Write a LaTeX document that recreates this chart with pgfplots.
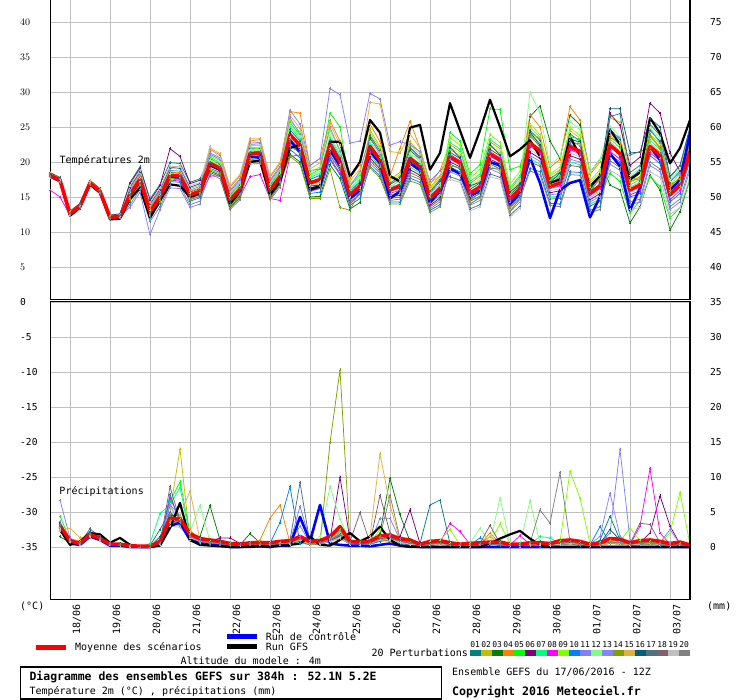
\documentclass[border=0pt]{standalone}
\usepackage{fontspec}
\setmainfont{DejaVu Sans Mono}
\usepackage{pgfplots}
\pgfplotsset{compat=1.18}
\definecolor{c01}{HTML}{008080}
\definecolor{c02}{HTML}{C0C000}
\definecolor{c03}{HTML}{008000}
\definecolor{c04}{HTML}{FF8000}
\definecolor{c05}{HTML}{00FF00}
\definecolor{c06}{HTML}{800080}
\definecolor{c07}{HTML}{00FF80}
\definecolor{c08}{HTML}{FF00FF}
\definecolor{c09}{HTML}{80FF00}
\definecolor{c10}{HTML}{0080FF}
\definecolor{c11}{HTML}{8080FF}
\definecolor{c12}{HTML}{80FF80}
\definecolor{c13}{HTML}{8484FF}
\definecolor{c14}{HTML}{80A000}
\definecolor{c15}{HTML}{E0B040}
\definecolor{c16}{HTML}{006080}
\definecolor{c17}{HTML}{507080}
\definecolor{c18}{HTML}{806070}
\definecolor{c19}{HTML}{C0C0C0}
\definecolor{c20}{HTML}{808080}
\definecolor{gridc}{HTML}{C0C0C0}
\pgfplotsset{
  mem/.style={line width=0.75pt, mark=+, mark size=1.4pt, mark options={solid, line width=0.6pt}},
  base/.style={scale only axis, width=640pt, xmin=0, xmax=64, major tick length=0pt,
    tick label style={font=\fontsize{9.6}{10}\selectfont}},
}
\begin{document}
\begin{tikzpicture}
\useasboundingbox (0pt,0pt) rectangle (740pt,700pt);
% ================= TOP PANEL: temperatures =================
\begin{axis}[base, at={(50pt,400pt)}, anchor=south west, height=300pt,
  ymin=0.2857, ymax=43.143,
  axis x line*=bottom, axis y line*=left, axis line style={-, line width=1pt},
  xtick={2,6,...,62}, xticklabels={}, ytick={5,10,...,40},
  grid=major, grid style={gridc, line width=0.9pt},
  yticklabel style={anchor=west, inner sep=0pt, xshift=-30pt}]
\addplot[mem,c01] coordinates {(0,18.5)(1,17.8)(2,13.0)(3,14.1)(4,17.4)(5,16.2)(6,12.4)(7,12.6)(8,17.1)(9,19.3)(10,14.7)(11,16.8)(12,19.9)(13,19.8)(14,17.1)(15,17.6)(16,20.5)(17,19.7)(18,15.2)(19,16.7)(20,21.9)(21,21.9)(22,16.6)(23,18.5)(24,24.6)(25,23.0)(26,17.5)(27,18.1)(28,23.1)(29,20.6)(30,15.8)(31,17.2)(32,22.6)(33,20.0)(34,16.3)(35,16.4)(36,20.9)(37,19.1)(38,15.1)(39,16.5)(40,19.7)(41,19.0)(42,14.7)(43,15.5)(44,20.1)(45,19.3)(46,13.8)(47,15.2)(48,24.5)(49,23.1)(50,17.7)(51,18.5)(52,24.0)(53,23.0)(54,16.7)(55,18.1)(56,24.7)(57,23.2)(58,17.8)(59,18.7)(60,24.5)(61,23.0)(62,17.1)(63,18.7)(64,23.8)};
\addplot[mem,c02] coordinates {(0,18.0)(1,17.3)(2,12.8)(3,13.8)(4,16.9)(5,15.9)(6,12.3)(7,12.3)(8,14.8)(9,17.0)(10,12.4)(11,14.5)(12,17.6)(13,17.5)(14,14.8)(15,15.3)(16,20.9)(17,20.2)(18,15.6)(19,17.1)(20,22.3)(21,22.4)(22,17.0)(23,19.0)(24,23.2)(25,21.8)(26,16.5)(27,16.9)(28,21.7)(29,19.4)(30,14.8)(31,16.0)(32,24.6)(33,22.2)(34,17.5)(35,18.5)(36,22.9)(37,21.3)(38,16.3)(39,18.1)(40,19.0)(41,18.3)(42,14.1)(43,14.8)(44,19.4)(45,18.7)(46,13.2)(47,14.6)(48,24.0)(49,22.7)(50,17.4)(51,18.1)(52,23.5)(53,22.6)(54,16.4)(55,17.7)(56,26.3)(57,25.7)(58,17.5)(59,17.8)(60,21.5)(61,20.5)(62,15.5)(63,16.5)(64,20.5)};
\addplot[mem,c03] coordinates {(0,17.9)(1,17.2)(2,12.4)(3,13.5)(4,16.8)(5,15.6)(6,11.9)(7,12.0)(8,15.7)(9,17.9)(10,13.3)(11,15.4)(12,18.5)(13,18.4)(14,15.7)(15,16.2)(16,18.7)(17,18.1)(18,13.6)(19,15.1)(20,20.1)(21,20.3)(22,15.0)(23,16.9)(24,21.1)(25,20.0)(26,15.0)(27,15.1)(28,19.6)(29,17.6)(30,13.3)(31,14.2)(32,23.4)(33,21.3)(34,16.8)(35,17.6)(36,21.7)(37,20.4)(38,15.6)(39,17.2)(40,21.4)(41,20.5)(42,16.1)(43,17.0)(44,21.8)(45,20.9)(46,15.2)(47,16.8)(48,26.5)(49,28.0)(50,23.0)(51,20.5)(52,26.7)(53,25.3)(54,18.5)(55,20.4)(56,16.7)(57,16.0)(58,11.3)(59,13.6)(60,18.1)(61,16.0)(62,10.3)(63,12.9)(64,17.6)};
\addplot[mem,c04] coordinates {(0,18.3)(1,17.6)(2,12.8)(3,13.9)(4,17.2)(5,16.0)(6,12.3)(7,12.4)(8,15.8)(9,18.0)(10,13.4)(11,15.5)(12,18.6)(13,18.5)(14,15.8)(15,16.3)(16,21.8)(17,21.0)(18,16.4)(19,18.0)(20,23.0)(21,23.2)(22,17.8)(23,19.8)(24,27.2)(25,27.0)(26,19.5)(27,20.5)(28,25.9)(29,23.0)(30,17.8)(31,19.6)(32,25.4)(33,22.9)(34,18.0)(35,22.0)(36,25.8)(37,22.0)(38,16.8)(39,18.8)(40,22.5)(41,21.5)(42,16.9)(43,18.0)(44,22.9)(45,21.9)(46,16.0)(47,17.8)(48,26.8)(49,25.0)(50,19.2)(51,20.4)(52,27.9)(53,26.0)(54,18.2)(55,20.0)(56,23.8)(57,22.4)(58,17.1)(59,17.9)(60,23.6)(61,22.2)(62,16.4)(63,17.9)(64,22.9)};
\addplot[mem,c05] coordinates {(0,18.2)(1,17.5)(2,12.5)(3,13.6)(4,17.1)(5,15.9)(6,12.0)(7,12.3)(8,14.9)(9,17.1)(10,12.5)(11,14.6)(12,17.7)(13,17.6)(14,14.9)(15,15.4)(16,20.2)(17,19.5)(18,15.0)(19,16.5)(20,21.6)(21,21.7)(22,16.4)(23,18.3)(24,25.6)(25,23.9)(26,18.2)(27,19.0)(28,27.0)(29,25.0)(30,16.6)(31,18.1)(32,21.0)(33,19.3)(34,15.3)(35,15.6)(36,19.3)(37,18.4)(38,14.1)(39,15.2)(40,24.2)(41,23.0)(42,18.3)(43,19.6)(44,27.6)(45,27.5)(46,18.9)(47,19.4)(48,24.2)(49,23.4)(50,17.4)(51,18.8)(52,23.6)(53,23.3)(54,16.9)(55,15.0)(56,18.4)(57,17.2)(58,12.7)(59,14.5)(60,17.9)(61,16.5)(62,12.0)(63,13.5)(64,17.4)};
\addplot[mem,c06] coordinates {(0,18.4)(1,17.7)(2,12.9)(3,14.0)(4,17.3)(5,16.1)(6,12.4)(7,12.5)(8,16.9)(9,19.1)(10,14.5)(11,16.6)(12,21.9)(13,20.8)(14,16.9)(15,17.4)(16,19.4)(17,18.7)(18,14.2)(19,15.7)(20,20.8)(21,20.9)(22,15.6)(23,17.5)(24,24.2)(25,22.0)(26,17.3)(27,17.2)(28,22.8)(29,20.4)(30,15.0)(31,16.9)(32,20.6)(33,19.0)(34,15.0)(35,15.3)(36,18.9)(37,18.1)(38,13.8)(39,14.9)(40,20.0)(41,19.3)(42,14.9)(43,15.8)(44,20.4)(45,19.7)(46,14.0)(47,15.6)(48,21.4)(49,20.5)(50,15.6)(51,15.9)(52,20.9)(53,20.4)(54,14.6)(55,15.5)(56,26.9)(57,25.2)(58,19.5)(59,20.7)(60,28.4)(61,27.0)(62,21.3)(63,18.6)(64,23.0)};
\addplot[mem,c07] coordinates {(0,17.9)(1,17.2)(2,12.5)(3,13.5)(4,16.8)(5,15.6)(6,12.0)(7,12.0)(8,15.5)(9,17.3)(10,13.1)(11,14.8)(12,18.3)(13,17.8)(14,15.5)(15,15.6)(16,20.7)(17,19.9)(18,15.4)(19,16.9)(20,22.1)(21,22.1)(22,16.8)(23,18.7)(24,25.0)(25,23.3)(26,17.8)(27,18.4)(28,23.5)(29,20.9)(30,16.1)(31,17.5)(32,22.6)(33,20.6)(34,16.3)(35,16.9)(36,20.9)(37,19.7)(38,15.1)(39,16.5)(40,22.8)(41,21.8)(42,17.2)(43,18.3)(44,23.2)(45,22.2)(46,16.3)(47,18.1)(48,20.5)(49,19.7)(50,15.0)(51,15.1)(52,20.0)(53,19.6)(54,14.0)(55,14.7)(56,23.3)(57,22.0)(58,16.7)(59,17.5)(60,23.1)(61,21.8)(62,16.0)(63,17.5)(64,22.4)};
\addplot[mem,c08] coordinates {(0,16.0)(1,15.0)(2,12.4)(3,13.4)(4,16.7)(5,15.6)(6,11.8)(7,12.0)(8,14.6)(9,16.8)(10,12.2)(11,14.3)(12,17.4)(13,17.3)(14,14.6)(15,15.1)(16,18.0)(17,18.0)(18,14.6)(19,15.0)(20,17.9)(21,18.2)(22,14.8)(23,14.5)(24,20.8)(25,21.0)(26,15.8)(27,16.2)(28,20.5)(29,18.4)(30,14.0)(31,15.4)(32,21.4)(33,19.7)(34,15.5)(35,16.0)(36,19.7)(37,18.8)(38,14.3)(39,15.6)(40,21.1)(41,20.2)(42,15.8)(43,16.7)(44,21.5)(45,20.6)(46,14.9)(47,16.5)(48,22.3)(49,21.2)(50,16.2)(51,16.6)(52,21.8)(53,21.1)(54,15.2)(55,16.2)(56,21.5)(57,20.4)(58,15.3)(59,15.9)(60,21.3)(61,20.2)(62,14.6)(63,15.9)(64,20.6)};
\addplot[mem,c09] coordinates {(0,18.3)(1,17.6)(2,12.7)(3,13.9)(4,17.2)(5,16.0)(6,12.2)(7,12.4)(8,15.1)(9,17.3)(10,12.7)(11,14.8)(12,17.9)(13,17.8)(14,15.1)(15,15.6)(16,20.3)(17,19.9)(18,15.0)(19,16.9)(20,21.6)(21,22.1)(22,16.3)(23,18.7)(24,26.0)(25,24.2)(26,18.5)(27,19.3)(28,24.5)(29,21.8)(30,16.8)(31,18.4)(32,24.2)(33,21.9)(34,17.3)(35,18.2)(36,22.5)(37,21.0)(38,16.1)(39,17.8)(40,23.5)(41,22.4)(42,17.7)(43,18.9)(44,23.9)(45,22.8)(46,16.8)(47,18.7)(48,25.4)(49,23.9)(50,18.3)(51,19.3)(52,24.9)(53,23.8)(54,17.3)(55,18.9)(56,24.2)(57,22.8)(58,17.4)(59,18.3)(60,24.0)(61,22.6)(62,16.7)(63,18.3)(64,23.3)};
\addplot[mem,c10] coordinates {(0,17.9)(1,17.2)(2,12.4)(3,13.5)(4,16.8)(5,15.6)(6,11.9)(7,12.0)(8,14.4)(9,16.6)(10,12.0)(11,14.1)(12,17.2)(13,17.1)(14,14.4)(15,14.9)(16,19.1)(17,18.5)(18,14.0)(19,15.5)(20,20.5)(21,20.7)(22,15.4)(23,17.3)(24,21.8)(25,20.6)(26,15.5)(27,15.7)(28,20.3)(29,18.2)(30,13.8)(31,14.8)(32,19.4)(33,18.0)(34,14.3)(35,14.3)(36,17.7)(37,17.1)(38,13.1)(39,13.9)(40,19.3)(41,18.6)(42,14.4)(43,15.1)(44,19.7)(45,19.0)(46,13.5)(47,14.9)(48,19.1)(49,18.6)(50,14.1)(51,14.0)(52,18.6)(53,18.5)(54,13.1)(55,13.6)(56,21.1)(57,20.0)(58,15.0)(59,15.5)(60,20.9)(61,19.8)(62,14.3)(63,15.5)(64,20.2)};
\addplot[mem,c11] coordinates {(0,18.2)(1,17.5)(2,12.7)(3,13.8)(4,17.1)(5,15.9)(6,12.2)(7,12.3)(8,13.5)(9,15.7)(10,9.6)(11,13.2)(12,16.3)(13,16.2)(14,13.5)(15,14.0)(16,21.1)(17,20.4)(18,15.8)(19,17.4)(20,22.5)(21,22.6)(22,17.2)(23,19.2)(24,27.4)(25,25.4)(26,19.5)(27,20.5)(28,30.5)(29,29.6)(30,22.7)(31,23.0)(32,29.8)(33,29.0)(34,22.4)(35,22.9)(36,22.5)(37,21.5)(38,17.3)(39,18.7)(40,20.4)(41,19.6)(42,15.2)(43,16.1)(44,20.8)(45,20.0)(46,14.3)(47,15.9)(48,23.6)(49,22.4)(50,17.1)(51,17.8)(52,23.1)(53,22.3)(54,16.1)(55,17.4)(56,24.3)(57,23.5)(58,17.5)(59,19.0)(60,24.8)(61,22.7)(62,17.3)(63,18.4)(64,24.0)};
\addplot[mem,c12] coordinates {(0,18.1)(1,17.3)(2,12.6)(3,13.8)(4,17.0)(5,15.7)(6,12.1)(7,12.3)(8,15.5)(9,17.7)(10,13.1)(11,15.2)(12,18.3)(13,18.2)(14,15.5)(15,16.0)(16,20.2)(17,19.5)(18,15.0)(19,16.5)(20,21.6)(21,21.7)(22,16.4)(23,18.3)(24,25.3)(25,23.6)(26,18.0)(27,18.7)(28,23.8)(29,21.2)(30,16.3)(31,17.8)(32,23.0)(33,21.0)(34,16.5)(35,17.3)(36,21.3)(37,20.1)(38,15.3)(39,16.9)(40,22.1)(41,21.2)(42,16.6)(43,17.7)(44,22.5)(45,21.6)(46,15.7)(47,17.5)(48,29.9)(49,27.0)(50,19.5)(51,20.8)(52,25.8)(53,24.6)(54,18.5)(55,20.4)(56,25.1)(57,23.6)(58,18.1)(59,19.1)(60,24.9)(61,23.4)(62,17.4)(63,19.1)(64,24.2)};
\addplot[mem,c13] coordinates {(0,18.0)(1,17.3)(2,12.5)(3,13.6)(4,16.9)(5,15.7)(6,12.0)(7,12.1)(8,16.0)(9,18.2)(10,13.6)(11,15.7)(12,18.8)(13,18.7)(14,16.0)(15,16.5)(16,21.3)(17,20.6)(18,16.0)(19,17.6)(20,22.7)(21,22.8)(22,17.4)(23,19.4)(24,26.3)(25,24.0)(26,18.8)(27,19.0)(28,25.0)(29,21.5)(30,16.5)(31,18.7)(32,23.8)(33,21.0)(34,17.0)(35,17.4)(36,22.0)(37,20.6)(38,15.3)(39,17.5)(40,18.6)(41,18.0)(42,13.8)(43,14.5)(44,19.0)(45,18.4)(46,12.9)(47,14.3)(48,20.9)(49,20.1)(50,15.3)(51,15.5)(52,20.4)(53,20.0)(54,14.3)(55,15.1)(56,19.7)(57,18.8)(58,13.9)(59,14.3)(60,19.5)(61,18.6)(62,13.2)(63,14.3)(64,18.8)};
\addplot[mem,c14] coordinates {(0,18.4)(1,17.5)(2,12.9)(3,13.8)(4,17.3)(5,15.9)(6,12.4)(7,12.3)(8,14.6)(9,16.8)(10,12.6)(11,14.3)(12,17.3)(13,17.7)(14,14.6)(15,15.5)(16,18.9)(17,18.3)(18,13.8)(19,15.3)(20,20.3)(21,20.5)(22,15.2)(23,17.1)(24,20.8)(25,19.7)(26,14.8)(27,14.8)(28,19.0)(29,13.5)(30,13.1)(31,16.0)(32,19.2)(33,17.7)(34,14.0)(35,14.0)(36,17.3)(37,16.8)(38,12.8)(39,13.6)(40,19.4)(41,19.2)(42,14.4)(43,15.7)(44,19.8)(45,19.6)(46,13.5)(47,15.4)(48,23.9)(49,22.1)(50,16.8)(51,18.0)(52,22.8)(53,22.6)(54,15.8)(55,17.6)(56,23.5)(57,22.7)(58,17.3)(59,17.6)(60,23.9)(61,21.9)(62,16.7)(63,17.6)(64,22.6)};
\addplot[mem,c15] coordinates {(0,18.3)(1,17.7)(2,12.9)(3,13.9)(4,17.3)(5,16.1)(6,12.2)(7,12.5)(8,16.2)(9,18.4)(10,13.8)(11,15.9)(12,19.0)(13,19.5)(14,16.2)(15,16.7)(16,22.0)(17,21.2)(18,16.6)(19,18.2)(20,23.4)(21,23.4)(22,18.0)(23,20.0)(24,26.7)(25,24.8)(26,19.0)(27,19.9)(28,25.5)(29,22.4)(30,17.3)(31,19.0)(32,28.5)(33,28.3)(34,21.5)(35,21.3)(36,24.0)(37,22.0)(38,17.0)(39,18.0)(40,21.8)(41,20.9)(42,16.3)(43,17.4)(44,22.2)(45,21.3)(46,15.4)(47,17.2)(48,25.0)(49,23.5)(50,18.0)(51,18.9)(52,24.5)(53,23.4)(54,17.0)(55,18.5)(56,22.9)(57,21.6)(58,16.4)(59,17.1)(60,22.7)(61,21.4)(62,15.7)(63,17.1)(64,22.0)};
\addplot[mem,c16] coordinates {(0,17.8)(1,17.1)(2,12.3)(3,13.4)(4,16.7)(5,15.5)(6,11.8)(7,11.9)(8,16.4)(9,18.6)(10,14.0)(11,16.1)(12,19.2)(13,19.1)(14,16.4)(15,16.9)(16,19.6)(17,19.3)(18,14.3)(19,16.3)(20,21.0)(21,21.5)(22,15.8)(23,18.0)(24,23.4)(25,21.5)(26,16.7)(27,16.6)(28,21.5)(29,19.7)(30,14.5)(31,16.3)(32,21.8)(33,20.0)(34,15.8)(35,16.3)(36,20.1)(37,19.1)(38,14.6)(39,15.9)(40,22.1)(41,20.6)(42,16.6)(43,17.1)(44,22.5)(45,21.0)(46,15.7)(47,16.9)(48,24.3)(49,22.4)(50,17.1)(51,18.4)(52,23.2)(53,22.9)(54,16.1)(55,18.0)(56,27.6)(57,27.6)(58,21.3)(59,21.4)(60,26.2)(61,25.0)(62,17.9)(63,19.5)(64,25.0)};
\addplot[mem,c17] coordinates {(0,18.1)(1,17.3)(2,12.6)(3,13.7)(4,16.9)(5,15.8)(6,12.0)(7,12.2)(8,15.0)(9,17.0)(10,12.3)(11,14.7)(12,17.9)(13,17.5)(14,15.1)(15,15.2)(16,20.0)(17,19.3)(18,14.8)(19,16.3)(20,21.4)(21,21.5)(22,16.2)(23,18.1)(24,22.9)(25,21.5)(26,16.3)(27,16.6)(28,21.4)(29,19.1)(30,14.6)(31,15.7)(32,23.8)(33,21.6)(34,17.0)(35,17.9)(36,22.1)(37,20.7)(38,15.8)(39,17.5)(40,17.9)(41,17.4)(42,13.3)(43,13.9)(44,18.3)(45,17.8)(46,12.4)(47,13.7)(48,22.5)(49,21.9)(50,16.2)(51,17.3)(52,22.6)(53,21.3)(54,15.8)(55,16.8)(56,26.5)(57,26.9)(58,18.5)(59,19.5)(60,25.4)(61,23.8)(62,17.8)(63,19.5)(64,24.7)};
\addplot[mem,c18] coordinates {(0,18.2)(1,17.6)(2,12.6)(3,13.9)(4,17.0)(5,16.0)(6,12.1)(7,12.4)(8,15.4)(9,17.5)(10,12.8)(11,15.1)(12,18.0)(13,18.1)(14,15.2)(15,15.9)(16,18.5)(17,17.9)(18,13.4)(19,14.9)(20,19.9)(21,20.1)(22,14.8)(23,16.7)(24,22.5)(25,21.2)(26,16.0)(27,16.3)(28,21.0)(29,18.8)(30,14.3)(31,15.4)(32,20.2)(33,18.7)(34,14.8)(35,15.0)(36,18.5)(37,17.8)(38,13.6)(39,14.6)(40,20.9)(41,19.7)(42,15.7)(43,16.2)(44,21.3)(45,20.1)(46,14.8)(47,16.0)(48,20.0)(49,19.4)(50,14.7)(51,14.8)(52,19.5)(53,19.3)(54,13.7)(55,14.4)(56,22.6)(57,21.0)(58,21.0)(59,21.5)(60,22.0)(61,21.2)(62,15.5)(63,16.9)(64,21.3)};
\addplot[mem,c19] coordinates {(0,17.8)(1,17.3)(2,12.4)(3,13.6)(4,16.9)(5,15.5)(6,11.9)(7,12.1)(8,16.6)(9,18.8)(10,14.2)(11,16.3)(12,19.4)(13,19.3)(14,16.6)(15,17.1)(16,22.2)(17,20.5)(18,15.6)(19,17.1)(20,22.3)(21,22.4)(22,17.0)(23,19.0)(24,23.5)(25,22.1)(26,16.7)(27,17.2)(28,22.0)(29,19.7)(30,15.0)(31,16.3)(32,22.7)(33,21.3)(34,16.3)(35,17.5)(36,21.0)(37,20.4)(38,15.5)(39,16.7)(40,17.5)(41,17.1)(42,13.0)(43,13.6)(44,17.9)(45,17.5)(46,12.1)(47,13.4)(48,21.8)(49,20.8)(50,15.9)(51,16.2)(52,21.3)(53,20.7)(54,14.9)(55,15.8)(56,18.8)(57,18.0)(58,13.2)(59,13.5)(60,18.6)(61,17.8)(62,12.5)(63,13.5)(64,17.9)};
\addplot[mem,c20] coordinates {(0,17.9)(1,17.1)(2,12.3)(3,13.5)(4,16.8)(5,15.5)(6,11.9)(7,11.9)(8,13.9)(9,16.1)(10,11.5)(11,13.6)(12,16.7)(13,16.6)(14,13.9)(15,14.4)(16,18.3)(17,17.6)(18,13.2)(19,14.6)(20,19.7)(21,19.8)(22,14.6)(23,16.4)(24,22.2)(25,21.4)(26,15.7)(27,16.5)(28,20.7)(29,19.1)(30,14.0)(31,15.6)(32,19.8)(33,18.4)(34,14.5)(35,14.7)(36,18.1)(37,17.5)(38,13.3)(39,14.3)(40,18.7)(41,18.5)(42,13.9)(43,15.0)(44,19.1)(45,19.0)(46,12.9)(47,14.8)(48,18.7)(49,18.2)(50,13.8)(51,13.6)(52,18.2)(53,18.1)(54,12.8)(55,13.2)(56,20.2)(57,19.2)(58,14.3)(59,14.7)(60,20.0)(61,19.0)(62,13.6)(63,14.7)(64,19.3)};
% control run
\addplot[blue, line width=2.6pt, line join=round] coordinates {(0,18.0)(1,17.3)(2,12.5)(3,13.6)(4,16.9)(5,15.7)(6,12.0)(7,12.1)(8,15.2)(9,17.3)(10,12.7)(11,14.9)(12,17.9)(13,17.8)(14,15.1)(15,15.6)(16,19.6)(17,18.9)(18,14.4)(19,15.9)(20,20.8)(21,20.6)(22,15.6)(23,17.5)(24,23.0)(25,21.5)(26,16.0)(27,16.5)(28,21.7)(29,19.5)(30,14.8)(31,16.0)(32,21.5)(33,19.8)(34,14.8)(35,15.8)(36,19.8)(37,18.8)(38,14.2)(39,15.8)(40,19.1)(41,18.3)(42,15.3)(43,15.8)(44,20.0)(45,19.5)(46,14.0)(47,15.6)(48,20.6)(49,17.0)(50,12.0)(51,16.0)(52,17.0)(53,17.4)(54,12.1)(55,15.0)(56,21.2)(57,19.4)(58,13.1)(59,16.3)(60,22.2)(61,20.3)(62,16.0)(63,17.4)(64,24.1)};
% GFS run
\addplot[black, line width=2.2pt, line join=round] coordinates {(0,18.0)(1,17.5)(2,12.3)(3,13.5)(4,16.8)(5,15.6)(6,11.8)(7,11.9)(8,14.7)(9,16.3)(10,12.0)(11,14.5)(12,16.8)(13,16.6)(14,15.0)(15,15.5)(16,19.5)(17,19.0)(18,14.0)(19,15.8)(20,20.0)(21,20.2)(22,15.3)(23,17.2)(24,22.0)(25,22.5)(26,16.2)(27,16.5)(28,22.9)(29,22.9)(30,17.9)(31,20.0)(32,26.0)(33,24.2)(34,18.0)(35,17.2)(36,24.9)(37,25.3)(38,18.9)(39,21.3)(40,28.4)(41,24.5)(42,20.6)(43,24.5)(44,28.9)(45,25.0)(46,20.8)(47,21.8)(48,23.1)(49,20.8)(50,17.0)(51,17.5)(52,23.6)(53,20.9)(54,16.5)(55,18.0)(56,24.6)(57,22.5)(58,17.5)(59,18.5)(60,26.3)(61,24.1)(62,19.8)(63,22.0)(64,26.0)};
% ensemble mean
\addplot[red, line width=3.6pt, line join=round] coordinates {(0,18.1)(1,17.4)(2,12.6)(3,13.7)(4,17.0)(5,15.8)(6,12.1)(7,12.2)(8,15.3)(9,17.5)(10,12.9)(11,15.0)(12,18.1)(13,18.0)(14,15.3)(15,15.8)(16,19.8)(17,19.1)(18,14.6)(19,16.1)(20,21.2)(21,21.3)(22,16.0)(23,17.9)(24,23.9)(25,22.4)(26,17.0)(27,17.5)(28,22.4)(29,20.0)(30,15.3)(31,16.6)(32,22.2)(33,20.3)(34,16.0)(35,16.6)(36,20.5)(37,19.4)(38,14.8)(39,16.2)(40,20.7)(41,19.9)(42,15.5)(43,16.4)(44,21.1)(45,20.3)(46,14.6)(47,16.2)(48,22.7)(49,21.6)(50,16.5)(51,17.0)(52,22.2)(53,21.5)(54,15.5)(55,16.6)(56,22.4)(57,21.2)(58,16.0)(59,16.7)(60,22.2)(61,21.0)(62,15.3)(63,16.7)(64,21.5)};
\end{axis}
% right labels, top panel
\begin{axis}[base, at={(50pt,400pt)}, anchor=south west, height=300pt,
  ymin=0.2857, ymax=43.143, axis x line=none, axis y line*=right,
  axis line style={-, line width=1.6pt}, xtick=\empty,
  ytick={5,10,...,40}, yticklabels={40,45,50,55,60,65,70,75},
  yticklabel style={anchor=west, inner sep=0pt, xshift=20pt}]
\addplot[draw=none] coordinates {(0,10)};
\end{axis}
% ================= BOTTOM PANEL: precipitation =================
\begin{axis}[base, at={(50pt,100pt)}, anchor=south west, height=298pt,
  ymin=-7.571, ymax=35, axis line style={line width=1pt},
  xtick={2,6,...,62}, xticklabels={},
  extra x ticks={2.7,6.7,10.7,14.7,18.7,22.7,26.7,30.7,34.7,38.7,42.7,46.7,50.7,54.7,58.7,62.7},
  extra x tick labels={18/06,19/06,20/06,21/06,22/06,23/06,24/06,25/06,26/06,27/06,28/06,29/06,30/06,01/07,02/07,03/07},
  extra x tick style={grid=none},
  xticklabel style={rotate=90, anchor=east, inner sep=0pt, font=\fontsize{10}{10}\selectfont},
  xticklabel shift=4pt,
  ytick={0,5,...,35}, yticklabels={-35,-30,-25,-20,-15,-10,-5,0},
  grid=major, grid style={gridc, line width=0.9pt},
  yticklabel style={anchor=west, inner sep=0pt, xshift=-30pt}]
\addplot[mem,c01] coordinates {(1,3.2)(2,0.8)(3,0.3)(4,2.2)(5,1.0)(6,0.3)(7,0.2)(8,0)(9,0)(10,0.2)(11,2.5)(12,5.0)(13,3.0)(14,1.0)(15,0.5)(16,0.8)(17,0.3)(18,0.2)(19,0.4)(20,0.5)(21,0.3)(22,0.2)(23,0.5)(24,0.8)(25,1.0)(26,0.5)(27,0.3)(28,0.8)(29,1.5)(30,0.3)(31,0.2)(32,0.4)(33,0.8)(34,1.0)(35,0.5)(36,0.3)(37,0.5)(38,6.0)(39,6.7)(40,0.5)(41,0)(42,0.2)(43,0.3)(44,0.5)(45,0.2)(46,0)(47,0.1)(48,0.3)(49,0)(50,0.2)(51,0.3)(52,0.5)(53,0.2)(54,0)(55,1.0)(56,4.4)(57,1.0)(58,0.2)(59,0.3)(60,0.5)(61,0.2)(62,0)(63,0.3)(64,0)};
\addplot[mem,c02] coordinates {(1,2.8)(2,1.0)(3,0.6)(4,1.5)(5,1.3)(6,0.5)(7,0.3)(8,0)(9,0)(10,0)(11,0.5)(12,5.0)(13,14.0)(14,1.0)(15,0.6)(16,0.4)(17,0.5)(18,0.3)(19,0.2)(20,0.4)(21,0.8)(22,0.5)(23,0.3)(24,0.4)(25,1.2)(26,0.4)(27,0.6)(28,1.0)(29,2.0)(30,0.5)(31,0.3)(32,0.6)(33,1.2)(34,1.5)(35,0.8)(36,0.5)(37,0.2)(38,0.3)(39,0.5)(40,0.3)(41,0.2)(42,0)(43,0.5)(44,1.5)(45,0.4)(46,0.2)(47,0)(48,0.3)(49,0.5)(50,0.2)(51,0.4)(52,0.6)(53,0.3)(54,0.2)(55,0.3)(56,0.8)(57,0.5)(58,0.3)(59,0.5)(60,0.4)(61,0.3)(62,0.2)(63,0.5)(64,0)};
\addplot[mem,c03] coordinates {(1,1.5)(2,0.6)(3,0.4)(4,1.9)(5,1.5)(6,0.3)(7,0.5)(8,0.2)(9,0)(10,0)(11,0.3)(12,3.5)(13,3.8)(14,1.5)(15,1.5)(16,5.9)(17,1.0)(18,0.5)(19,0.3)(20,1.9)(21,0.6)(22,0.3)(23,0.5)(24,0.5)(25,0.8)(26,0.3)(27,0.5)(28,1.0)(29,1.5)(30,0.5)(31,0.8)(32,0.5)(33,2.0)(34,9.8)(35,4.6)(36,0.8)(37,0.3)(38,0.2)(39,0.4)(40,0.2)(41,0.3)(42,0.5)(43,0.3)(44,0.4)(45,0.8)(46,0.3)(47,0.2)(48,0.5)(49,0.8)(50,0.3)(51,0.4)(52,0.6)(53,0.3)(54,0.2)(55,0.5)(56,0.6)(57,0.8)(58,0.5)(59,0.6)(60,0.4)(61,0.5)(62,0.3)(63,0.4)(64,0.1)};
\addplot[mem,c04] coordinates {(1,2.6)(2,1.2)(3,0.8)(4,1.4)(5,0.9)(6,0.6)(7,0.3)(8,0.3)(9,0)(10,0)(11,0.4)(12,3.0)(13,3.5)(14,2.5)(15,0.8)(16,0.5)(17,0.7)(18,0.3)(19,0.5)(20,0.6)(21,1.0)(22,4.1)(23,6.0)(24,0.6)(25,1.0)(26,0.4)(27,0.5)(28,0.8)(29,1.2)(30,0.4)(31,0.3)(32,0.5)(33,1.0)(34,0.8)(35,0.6)(36,0.4)(37,0.2)(38,0.3)(39,0.3)(40,0.5)(41,0.2)(42,0.3)(43,0.4)(44,2.0)(45,0.5)(46,0.2)(47,0.3)(48,0.2)(49,0.3)(50,0.5)(51,0.3)(52,0.4)(53,0.6)(54,0.3)(55,0.2)(56,0.5)(57,0.4)(58,0.2)(59,0.5)(60,0.3)(61,0.4)(62,0.6)(63,0.3)(64,0.2)};
\addplot[mem,c05] coordinates {(1,4.4)(2,1.0)(3,0.4)(4,2.0)(5,1.1)(6,0.4)(7,0.2)(8,0.1)(9,0)(10,0)(11,0.6)(12,6.5)(13,9.3)(14,2.0)(15,1.0)(16,0.6)(17,0.4)(18,0.5)(19,0.3)(20,0.3)(21,0.4)(22,0.3)(23,0.6)(24,0.7)(25,1.5)(26,0.6)(27,0.4)(28,1.2)(29,2.5)(30,0.6)(31,0.5)(32,0.4)(33,1.5)(34,1.2)(35,0.8)(36,0.6)(37,0.3)(38,0.4)(39,0.5)(40,0.3)(41,0.2)(42,0.4)(43,0.3)(44,0.5)(45,0.6)(46,0.3)(47,0.2)(48,0.4)(49,0.3)(50,0.2)(51,0.6)(52,0.8)(53,0.5)(54,0.3)(55,0.4)(56,0.9)(57,0.6)(58,0.4)(59,0.7)(60,0.6)(61,0.5)(62,0.3)(63,0.4)(64,0.2)};
\addplot[mem,c06] coordinates {(1,3.5)(2,0.8)(3,0.5)(4,1.6)(5,1.4)(6,0.3)(7,0.4)(8,0.2)(9,0)(10,0)(11,0.5)(12,4.5)(13,4.5)(14,1.2)(15,0.7)(16,0.8)(17,1.3)(18,1.3)(19,0.5)(20,0.4)(21,0.3)(22,0.2)(23,0.5)(24,0.6)(25,1.0)(26,0.5)(27,0.8)(28,1.0)(29,10.0)(30,1.0)(31,0.6)(32,0.5)(33,1.3)(34,1.0)(35,1.5)(36,5.3)(37,0.5)(38,0.3)(39,0.4)(40,0.5)(41,0.3)(42,0.2)(43,0.4)(44,0.3)(45,0.5)(46,0.2)(47,0.3)(48,0.5)(49,0.4)(50,0.3)(51,0.8)(52,0.5)(53,0.3)(54,0.2)(55,0.4)(56,0.7)(57,0.5)(58,0.3)(59,0.6)(60,2.0)(61,7.3)(62,3.0)(63,0.4)(64,0.1)};
\addplot[mem,c07] coordinates {(1,3.0)(2,0.7)(3,0.3)(4,1.8)(5,1.0)(6,0.4)(7,0.3)(8,0.2)(9,0)(10,0.5)(11,4.8)(12,6.0)(13,8.5)(14,1.5)(15,0.8)(16,0.5)(17,0.6)(18,0.4)(19,0.3)(20,0.5)(21,0.3)(22,0.4)(23,0.6)(24,0.5)(25,1.2)(26,0.5)(27,0.6)(28,1.3)(29,2.2)(30,0.5)(31,0.4)(32,0.6)(33,1.2)(34,1.0)(35,0.7)(36,0.5)(37,0.3)(38,0.5)(39,0.6)(40,0.4)(41,0.3)(42,0.5)(43,0.4)(44,0.6)(45,0.5)(46,0.3)(47,0.5)(48,0.4)(49,1.5)(50,1.3)(51,0.5)(52,0.7)(53,0.4)(54,0.3)(55,0.5)(56,0.6)(57,0.8)(58,0.4)(59,0.5)(60,0.7)(61,0.4)(62,0.3)(63,0.5)(64,0.2)};
\addplot[mem,c08] coordinates {(1,3.3)(2,0.9)(3,0.6)(4,1.7)(5,1.3)(6,0.5)(7,0.3)(8,0.2)(9,0)(10,0)(11,0.6)(12,7.0)(13,4.0)(14,1.5)(15,0.7)(16,0.4)(17,0.6)(18,0.3)(19,0.4)(20,0.5)(21,0.3)(22,0.4)(23,0.5)(24,0.6)(25,1.3)(26,0.4)(27,0.5)(28,1.0)(29,2.0)(30,0.5)(31,0.4)(32,0.5)(33,1.5)(34,1.8)(35,0.6)(36,0.4)(37,0.2)(38,0.5)(39,0.6)(40,3.4)(41,2.2)(42,0.4)(43,0.3)(44,0.5)(45,0.6)(46,0.3)(47,1.6)(48,0.4)(49,0.3)(50,0.2)(51,0.5)(52,0.6)(53,0.4)(54,0.2)(55,0.5)(56,0.8)(57,0.6)(58,0.3)(59,3.0)(60,11.2)(61,2.0)(62,0.4)(63,0.5)(64,0.1)};
\addplot[mem,c09] coordinates {(1,2.9)(2,1.1)(3,0.5)(4,1.9)(5,1.0)(6,0.4)(7,0.2)(8,0.1)(9,0)(10,0)(11,0.4)(12,3.5)(13,3.0)(14,1.8)(15,1.0)(16,0.6)(17,0.5)(18,0.4)(19,0.3)(20,0.4)(21,0.5)(22,0.3)(23,0.4)(24,0.5)(25,1.1)(26,0.6)(27,0.7)(28,1.1)(29,1.8)(30,0.6)(31,0.5)(32,0.6)(33,2.5)(34,1.4)(35,0.9)(36,0.5)(37,0.3)(38,0.8)(39,1.0)(40,2.5)(41,0.3)(42,0.4)(43,0.5)(44,0.6)(45,3.3)(46,0.5)(47,0.3)(48,0.5)(49,0.4)(50,0.3)(51,0.8)(52,10.8)(53,7.0)(54,0.5)(55,0.6)(56,1.0)(57,0.8)(58,2.7)(59,0.9)(60,0.8)(61,0.6)(62,2.0)(63,7.8)(64,0.3)};
\addplot[mem,c10] coordinates {(1,3.1)(2,0.8)(3,0.4)(4,1.7)(5,1.2)(6,0.3)(7,0.3)(8,0.2)(9,0)(10,0)(11,0.5)(12,7.5)(13,3.5)(14,1.6)(15,0.9)(16,0.5)(17,0.4)(18,0.3)(19,0.2)(20,0.3)(21,0.4)(22,0.5)(23,3.5)(24,8.6)(25,0.5)(26,0.4)(27,0.6)(28,0.8)(29,1.5)(30,0.4)(31,0.3)(32,0.4)(33,1.0)(34,1.3)(35,0.7)(36,0.5)(37,0.2)(38,0.4)(39,0.5)(40,0.3)(41,0.4)(42,0.3)(43,1.3)(44,0.4)(45,0.3)(46,0.2)(47,0.4)(48,0.3)(49,0.5)(50,0.4)(51,0.3)(52,0.5)(53,0.4)(54,0.3)(55,2.9)(56,0.6)(57,0.5)(58,0.3)(59,0.4)(60,0.5)(61,0.3)(62,0.2)(63,0.3)(64,0.1)};
\addplot[mem,c11] coordinates {(1,6.7)(2,1.3)(3,0.5)(4,1.8)(5,1.1)(6,0.4)(7,0.3)(8,0.2)(9,0)(10,0)(11,0.6)(12,6.0)(13,4.5)(14,2.0)(15,1.2)(16,0.7)(17,0.5)(18,0.3)(19,0.4)(20,0.6)(21,0.3)(22,0.4)(23,0.5)(24,0.7)(25,5.8)(26,1.0)(27,0.6)(28,1.0)(29,1.8)(30,0.6)(31,0.4)(32,0.5)(33,4.1)(34,4.1)(35,1.0)(36,0.6)(37,0.3)(38,0.4)(39,0.5)(40,0.4)(41,0.3)(42,0.2)(43,0.4)(44,0.5)(45,0.4)(46,0.3)(47,0.2)(48,0.4)(49,0.3)(50,0.5)(51,0.6)(52,0.5)(53,0.4)(54,0.3)(55,0.5)(56,2.0)(57,13.9)(58,1.0)(59,0.5)(60,0.6)(61,0.4)(62,0.5)(63,0.3)(64,0.1)};
\addplot[mem,c12] coordinates {(1,3.0)(2,0.9)(3,0.5)(4,1.6)(5,1.3)(6,0.5)(7,0.4)(8,0.1)(9,0)(10,0)(11,0.4)(12,3.0)(13,4.0)(14,2.2)(15,5.9)(16,0.8)(17,0.4)(18,0.3)(19,0.2)(20,0.4)(21,0.5)(22,0.3)(23,0.4)(24,0.6)(25,1.0)(26,0.5)(27,1.5)(28,8.6)(29,4.0)(30,0.8)(31,0.5)(32,0.4)(33,1.2)(34,1.0)(35,0.6)(36,0.4)(37,0.3)(38,0.4)(39,0.3)(40,0.5)(41,0.4)(42,0.5)(43,2.7)(44,0.6)(45,7.0)(46,0.5)(47,0.4)(48,6.6)(49,0.5)(50,0.4)(51,0.5)(52,0.8)(53,0.6)(54,0.3)(55,0.4)(56,0.9)(57,0.6)(58,0.4)(59,0.6)(60,0.5)(61,0.4)(62,0.3)(63,0.5)(64,0.2)};
\addplot[mem,c13] coordinates {(1,3.6)(2,1.0)(3,0.6)(4,1.9)(5,1.2)(6,0.4)(7,0.4)(8,0.2)(9,0)(10,0)(11,0.5)(12,6.0)(13,3.0)(14,1.4)(15,0.8)(16,0.6)(17,0.5)(18,0.4)(19,0.3)(20,0.5)(21,0.4)(22,0.3)(23,0.6)(24,0.6)(25,3.0)(26,0.6)(27,0.5)(28,1.2)(29,2.4)(30,0.6)(31,0.5)(32,0.6)(33,1.4)(34,1.6)(35,0.8)(36,0.5)(37,0.2)(38,0.3)(39,0.4)(40,0.3)(41,0.4)(42,0.3)(43,0.5)(44,0.4)(45,0.6)(46,0.3)(47,0.4)(48,0.5)(49,0.4)(50,0.3)(51,0.5)(52,0.6)(53,0.5)(54,0.4)(55,1.5)(56,7.7)(57,1.5)(58,0.5)(59,0.6)(60,0.5)(61,0.6)(62,2.5)(63,0.4)(64,0.1)};
\addplot[mem,c14] coordinates {(1,2.7)(2,0.8)(3,0.5)(4,1.8)(5,1.1)(6,0.4)(7,0.3)(8,0.2)(9,0)(10,0)(11,0.5)(12,3.8)(13,3.2)(14,1.6)(15,0.9)(16,0.5)(17,0.6)(18,0.3)(19,0.3)(20,0.5)(21,0.4)(22,0.3)(23,0.4)(24,0.6)(25,0.9)(26,0.3)(27,0.5)(28,14.9)(29,25.3)(30,0.6)(31,0.4)(32,0.5)(33,1.1)(34,1.2)(35,0.7)(36,0.4)(37,0.2)(38,0.3)(39,0.4)(40,0.3)(41,0.2)(42,0.4)(43,0.3)(44,0.4)(45,0.5)(46,0.2)(47,0.3)(48,0.4)(49,0.3)(50,0.2)(51,0.4)(52,0.5)(53,0.3)(54,0.2)(55,0.4)(56,0.5)(57,0.4)(58,0.3)(59,0.5)(60,0.4)(61,0.3)(62,0.2)(63,0.4)(64,0.1)};
\addplot[mem,c15] coordinates {(1,2.4)(2,2.7)(3,1.3)(4,1.6)(5,1.0)(6,0.5)(7,0.4)(8,0.2)(9,0)(10,0)(11,0.4)(12,3.5)(13,4.5)(14,8.0)(15,1.0)(16,0.6)(17,0.5)(18,0.3)(19,0.4)(20,0.5)(21,0.4)(22,0.6)(23,0.5)(24,0.7)(25,1.1)(26,0.5)(27,0.6)(28,1.0)(29,2.0)(30,0.5)(31,0.4)(32,1.5)(33,13.3)(34,6.0)(35,1.0)(36,0.5)(37,0.3)(38,0.4)(39,0.3)(40,0.4)(41,0.3)(42,0.2)(43,0.4)(44,1.5)(45,0.5)(46,0.3)(47,0.2)(48,0.4)(49,0.3)(50,0.4)(51,0.5)(52,0.6)(53,0.4)(54,0.3)(55,0.4)(56,0.8)(57,0.6)(58,0.3)(59,0.5)(60,0.6)(61,0.4)(62,0.3)(63,0.5)(64,0.2)};
\addplot[mem,c16] coordinates {(1,3.4)(2,0.9)(3,0.4)(4,2.1)(5,1.3)(6,0.4)(7,0.3)(8,0.2)(9,0)(10,0)(11,1.5)(12,4.5)(13,3.3)(14,1.7)(15,0.8)(16,0.5)(17,0.4)(18,0.3)(19,0.4)(20,0.4)(21,0.5)(22,0.3)(23,0.5)(24,0.6)(25,1.2)(26,0.5)(27,0.5)(28,0.9)(29,1.6)(30,0.5)(31,0.4)(32,0.5)(33,1.0)(34,1.2)(35,0.8)(36,0.5)(37,0.3)(38,0.5)(39,0.6)(40,0.4)(41,0.3)(42,0.4)(43,0.3)(44,0.5)(45,0.4)(46,0.3)(47,0.2)(48,0.4)(49,0.5)(50,0.4)(51,0.5)(52,0.6)(53,0.5)(54,0.3)(55,0.5)(56,2.5)(57,1.0)(58,0.4)(59,0.5)(60,0.6)(61,0.4)(62,0.3)(63,0.4)(64,0.1)};
\addplot[mem,c17] coordinates {(1,3.0)(2,1.0)(3,0.6)(4,2.6)(5,1.4)(6,0.5)(7,0.4)(8,0.2)(9,0)(10,0)(11,0.6)(12,5.0)(13,3.6)(14,1.5)(15,0.9)(16,0.6)(17,0.5)(18,0.4)(19,0.3)(20,0.4)(21,0.5)(22,0.4)(23,0.5)(24,1.0)(25,9.2)(26,0.5)(27,0.6)(28,1.0)(29,1.8)(30,0.5)(31,0.4)(32,0.5)(33,1.2)(34,1.4)(35,0.8)(36,0.5)(37,0.3)(38,0.4)(39,0.5)(40,0.3)(41,0.4)(42,0.3)(43,0.4)(44,0.5)(45,0.4)(46,0.3)(47,0.2)(48,0.4)(49,0.3)(50,0.4)(51,0.6)(52,0.5)(53,0.4)(54,0.3)(55,0.5)(56,0.7)(57,0.6)(58,0.4)(59,0.6)(60,0.5)(61,0.4)(62,0.3)(63,0.4)(64,0.2)};
\addplot[mem,c18] coordinates {(1,3.3)(2,0.9)(3,0.5)(4,2.0)(5,1.2)(6,0.4)(7,0.4)(8,0.2)(9,0)(10,0)(11,0.6)(12,8.6)(13,3.8)(14,1.6)(15,1.0)(16,0.5)(17,0.4)(18,0.3)(19,0.3)(20,0.5)(21,0.4)(22,0.5)(23,0.4)(24,0.6)(25,1.1)(26,0.5)(27,0.6)(28,1.0)(29,1.7)(30,0.8)(31,4.9)(32,0.6)(33,7.4)(34,2.0)(35,1.0)(36,0.5)(37,0.3)(38,0.4)(39,0.5)(40,0.3)(41,0.4)(42,0.3)(43,0.5)(44,3.1)(45,0.5)(46,0.3)(47,0.2)(48,0.4)(49,0.5)(50,0.3)(51,0.6)(52,0.5)(53,0.4)(54,0.3)(55,0.5)(56,0.7)(57,0.6)(58,0.5)(59,3.4)(60,3.2)(61,0.6)(62,0.3)(63,0.4)(64,0.2)};
\addplot[mem,c19] coordinates {(1,2.5)(2,0.7)(3,0.4)(4,1.5)(5,1.0)(6,0.3)(7,0.3)(8,0.2)(9,0)(10,0)(11,0.4)(12,3.0)(13,2.8)(14,1.3)(15,0.8)(16,0.5)(17,0.4)(18,0.3)(19,0.2)(20,0.4)(21,0.3)(22,0.4)(23,0.5)(24,0.6)(25,1.0)(26,0.4)(27,0.5)(28,0.8)(29,1.4)(30,0.4)(31,0.3)(32,0.5)(33,1.0)(34,1.1)(35,0.7)(36,0.4)(37,0.2)(38,0.3)(39,0.4)(40,0.3)(41,0.2)(42,0.3)(43,0.4)(44,0.5)(45,0.4)(46,0.2)(47,0.3)(48,0.4)(49,0.3)(50,0.2)(51,0.4)(52,0.5)(53,0.4)(54,0.2)(55,0.3)(56,0.6)(57,0.5)(58,0.3)(59,0.4)(60,0.5)(61,0.3)(62,0.2)(63,0.3)(64,0.1)};
\addplot[mem,c20] coordinates {(1,3.2)(2,1.0)(3,0.5)(4,1.8)(5,1.2)(6,0.4)(7,0.3)(8,0.2)(9,0)(10,0)(11,0.5)(12,4.5)(13,3.5)(14,1.5)(15,0.9)(16,0.5)(17,0.4)(18,0.3)(19,0.3)(20,0.4)(21,0.4)(22,0.3)(23,0.4)(24,0.6)(25,1.2)(26,0.5)(27,0.6)(28,1.0)(29,1.7)(30,0.5)(31,0.6)(32,0.5)(33,1.5)(34,7.4)(35,1.2)(36,0.6)(37,0.3)(38,0.4)(39,0.5)(40,0.3)(41,0.3)(42,0.4)(43,0.3)(44,0.5)(45,0.4)(46,0.3)(47,0.4)(48,0.6)(49,5.3)(50,3.4)(51,10.6)(52,0.8)(53,0.4)(54,0.3)(55,0.4)(56,0.7)(57,0.6)(58,0.4)(59,0.5)(60,0.6)(61,0.4)(62,0.3)(63,0.4)(64,0.1)};
% control run
\addplot[blue, line width=2.6pt, line join=round] coordinates {(1,2.5)(2,0.5)(3,0.3)(4,1.5)(5,1.0)(6,0.2)(7,0.2)(8,0)(9,0)(10,0)(11,0.3)(12,3.0)(13,3.5)(14,1.0)(15,0.5)(16,0.3)(17,0.2)(18,0)(19,0)(20,0.1)(21,0.1)(22,0)(23,0.2)(24,0.2)(25,4.3)(26,0.8)(27,6.0)(28,0.5)(29,0.3)(30,0.2)(31,0.2)(32,0.1)(33,0.3)(34,0.5)(35,0.2)(36,0.1)(37,0)(38,0)(39,0)(40,0)(41,0)(42,0)(43,0)(44,0)(45,0)(46,0)(47,0)(48,0)(49,0)(50,0)(51,0)(52,0)(53,0)(54,0)(55,0)(56,0)(57,0)(58,0)(59,0)(60,0)(61,0)(62,0)(63,0)(64,0)};
% GFS run
\addplot[black, line width=2.2pt, line join=round] coordinates {(1,2.5)(2,0.3)(3,0.8)(4,2.0)(5,1.8)(6,0.6)(7,1.3)(8,0.3)(9,0)(10,0)(11,0.2)(12,2.7)(13,6.3)(14,1.0)(15,0.3)(16,0.2)(17,0.1)(18,0)(19,0)(20,0)(21,0.1)(22,0.1)(23,0.2)(24,0.3)(25,0.5)(26,1.5)(27,0.3)(28,0.2)(29,1.0)(30,2.0)(31,0.8)(32,1.5)(33,2.9)(34,1.0)(35,0.2)(36,0)(37,0)(38,0)(39,0)(40,0)(41,0)(42,0)(43,0)(44,0.5)(45,1.2)(46,1.8)(47,2.3)(48,1.2)(49,0.3)(50,0)(51,0)(52,0)(53,0)(54,0)(55,0)(56,0)(57,0)(58,0)(59,0)(60,0)(61,0)(62,0)(63,0)(64,0)};
% ensemble mean
\addplot[red, line width=3.6pt, line join=round] coordinates {(1,3.0)(2,0.9)(3,0.5)(4,1.8)(5,1.2)(6,0.4)(7,0.4)(8,0.2)(9,0.1)(10,0.1)(11,0.8)(12,4.1)(13,4.0)(14,1.9)(15,1.2)(16,1.0)(17,0.8)(18,0.5)(19,0.4)(20,0.6)(21,0.6)(22,0.6)(23,0.8)(24,0.9)(25,1.5)(26,0.8)(27,0.9)(28,1.5)(29,2.9)(30,0.8)(31,0.7)(32,0.8)(33,1.6)(34,1.7)(35,1.2)(36,1.0)(37,0.4)(38,0.8)(39,0.9)(40,0.6)(41,0.4)(42,0.5)(43,0.6)(44,0.7)(45,0.7)(46,0.4)(47,0.4)(48,0.6)(49,0.6)(50,0.5)(51,0.9)(52,1.0)(53,0.8)(54,0.4)(55,0.6)(56,1.2)(57,1.1)(58,0.6)(59,0.9)(60,1.0)(61,0.8)(62,0.5)(63,0.7)(64,0.3)};
\end{axis}
% right labels, bottom panel
\begin{axis}[base, at={(50pt,100pt)}, anchor=south west, height=298pt,
  ymin=-7.571, ymax=35, axis x line=none, axis y line*=right,
  axis line style={-, line width=1.6pt}, xtick=\empty,
  ytick={0,5,...,35}, yticklabels={0,5,10,15,20,25,30,35},
  yticklabel style={anchor=west, inner sep=0pt, xshift=20pt}]
\addplot[draw=none] coordinates {(0,10)};
\end{axis}
% ================= texts and legend =================
\begin{scope}[every node/.style={inner sep=0pt, font=\fontsize{10}{12}\selectfont}]
\node[anchor=west] at (59.5pt,539pt) {Températures 2m};
\node[anchor=west] at (59.3pt,208pt) {Précipitations};
\node[anchor=west] at (20pt,93.3pt) {(°C)};
\node[anchor=west] at (707pt,93.3pt) {(mm)};
\draw[red, line width=4.5pt] (35.6pt,52.7pt) -- (66.4pt,52.7pt);
\node[anchor=west] at (75pt,52.7pt) {Moyenne des scénarios};
\draw[blue, line width=4.5pt] (227pt,63.3pt) -- (257pt,63.3pt);
\node[anchor=west] at (265.7pt,63.3pt) {Run de contrôle};
\draw[black, line width=4.5pt] (227pt,53.3pt) -- (257pt,53.3pt);
\node[anchor=west] at (265.7pt,53.3pt) {Run GFS};
\node[anchor=west] at (180.3pt,39.3pt) {Altitude du modele : 4m};
\node[anchor=west] at (371.4pt,47.7pt) {20 Perturbations};
\foreach \k/\c/\n in {0/c01/01,1/c02/02,2/c03/03,3/c04/04,4/c05/05,5/c06/06,6/c07/07,7/c08/08,8/c09/09,9/c10/10,10/c11/11,11/c12/12,12/c13/13,13/c14/14,14/c15/15,15/c16/16,16/c17/17,17/c18/18,18/c19/19,19/c20/20}{
  \fill[\c] ({470pt+\k*11pt},44pt) rectangle ({480.5pt+\k*11pt},49.7pt);
  \node[font=\fontsize{8}{8}\selectfont] at ({475.2pt+\k*11pt},55.5pt) {\n};
}
\draw[line width=1.2pt] (20.5pt,1pt) rectangle (441.5pt,33pt);
\node[anchor=west, font=\fontsize{11.45}{12}\selectfont\bfseries] at (29.4pt,23pt) {Diagramme des ensembles GEFS sur 384h : 52.1N 5.2E};
\node[anchor=west] at (29.4pt,8.3pt) {Température 2m (°C) , précipitations (mm)};
\node[anchor=west] at (452pt,27.7pt) {Ensemble GEFS du 17/06/2016 - 12Z};
\node[anchor=west, font=\fontsize{11.6}{12}\selectfont\bfseries] at (452pt,8.3pt) {Copyright 2016 Meteociel.fr};
\end{scope}
\end{tikzpicture}
\end{document}
